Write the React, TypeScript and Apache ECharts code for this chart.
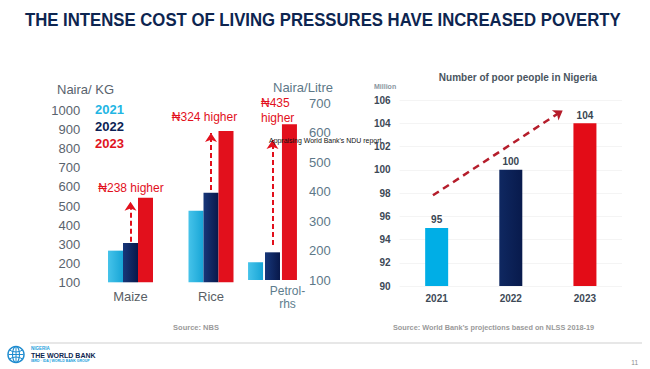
import React, { useEffect, useRef } from "react";
import * as echarts from "echarts";

// ---------- data ----------
const foodCategories = ["Maize", "Rice"];
const fuelCategories = ["Petrol-\nrhs"];
const priceYears = ["2021", "2022", "2023"];
const food2021 = [266, 475];
const food2022 = [306, 570];
const food2023 = [544, 894];
const petrol2021 = [160];
const petrol2022 = [194];
const petrol2023 = [629];
const foodArrowFrom = [313, 584];
const foodArrowTo = [523, 883];
const foodArrowText = ["₦238 higher", "₦324 higher"];
const foodTextValue = [594, 967];
const petrolArrowFrom = [219];
const petrolArrowTo = [575];
const petrolArrowText = ["₦435\nhigher"];
const petrolTextValue = [676];

const poorYears = ["2021", "2022", "2023"];
const poorValues = [95, 100, 104];
const trendStart = [-0.05, 97.8];
const trendEnd = [1.7, 105.1];

// ---------- styles ----------
const FONT = "'Liberation Sans', Arial, 'DejaVu Sans', sans-serif";
const C23 = "#e2101c";
const grad = (a: string, b: string) =>
  new echarts.graphic.LinearGradient(0, 0, 1, 0, [
    { offset: 0, color: a },
    { offset: 1, color: b },
  ]);
const barColors = [grad("#46c3ea", "#17a5d6"), grad("#17377a", "#08184a"), C23];
const poorColors = ["#00aee6", grad("#0f2861", "#081a4c"), "#e30c17"];
const legendColors = ["#22b5e3", "#0c1f55", "#e0141e"];

export default function App() {
  const ref = useRef<HTMLDivElement>(null);
  useEffect(() => {
    if (!ref.current) return;
    const chart = echarts.init(ref.current, undefined, { renderer: "svg" });

    const arrowLine = {
      silent: true,
      symbol: ["none", "arrow"],
      symbolSize: 9,
      label: { show: false },
      lineStyle: { color: C23, type: [5, 3], width: 2, opacity: 1 },
      emphasis: { disabled: true },
    };
    const textPoint = (data: any[]) => ({
      silent: true,
      symbol: "circle",
      symbolSize: 0,
      data,
      label: {
        show: true,
        position: "inside",
        formatter: "{b}",
        color: C23,
        fontSize: 12,
        fontFamily: FONT,
        lineHeight: 15,
      },
    });

    const foodSeries = [food2021, food2022, food2023].map((vals, i) => {
      const s: any = {
        name: priceYears[i],
        type: "bar",
        xAxisIndex: 0,
        yAxisIndex: 0,
        barWidth: 15,
        barGap: "0%",
        data: vals,
        itemStyle: { color: barColors[i] },
        silent: true,
      };
      if (i === 1) {
        s.markLine = {
          ...arrowLine,
          data: foodCategories.map((c, k) => [
            { coord: [c, foodArrowFrom[k]] },
            { coord: [c, foodArrowTo[k]] },
          ]),
        };
        s.markPoint = textPoint(
          foodCategories.map((c, k) => ({
            name: foodArrowText[k],
            coord: [c, foodTextValue[k]],
            label: { offset: [k === 1 ? -6.5 : 0.5, 0] },
          }))
        );
      }
      return s;
    });

    const fuelSeries = [petrol2021, petrol2022, petrol2023].map((vals, i) => {
      const s: any = {
        name: priceYears[i],
        type: "bar",
        xAxisIndex: 1,
        yAxisIndex: 1,
        barWidth: 15,
        barGap: "13%",
        data: vals,
        itemStyle: { color: barColors[i] },
        silent: true,
      };
      if (i === 1) {
        s.markLine = {
          ...arrowLine,
          data: fuelCategories.map((c, k) => [
            { coord: [c, petrolArrowFrom[k]] },
            { coord: [c, petrolArrowTo[k]] },
          ]),
        };
        s.markPoint = textPoint(
          fuelCategories.map((c, k) => ({
            name: petrolArrowText[k],
            coord: [c, petrolTextValue[k]],
            label: { align: "left", offset: [-11.5, 0] },
          }))
        );
      }
      return s;
    });

    const plain = (v: number) => String(v);

    const option: any = {
      animation: false,
      backgroundColor: "#ffffff",
      textStyle: { fontFamily: FONT },
      legend: {
        orient: "vertical",
        left: 85,
        top: 97,
        itemWidth: 0,
        itemHeight: 14,
        itemGap: 3,
        icon: "rect",
        selectedMode: false,
        data: priceYears.map((y, i) => ({
          name: y,
          textStyle: { color: legendColors[i], fontWeight: "bold", fontSize: 13, fontFamily: FONT },
        })),
      },
      grid: [
        { left: 90.25, width: 161, top: 110.7, bottom: 86.7 },
        { left: 242.5, width: 60, top: 103.3, bottom: 89 },
        { left: 399.6, right: 28, top: 100, bottom: 83 },
      ],
      xAxis: [
        {
          type: "category",
          gridIndex: 0,
          data: foodCategories,
          axisLine: { show: false },
          axisTick: { show: false },
          axisLabel: { color: "#5a5f66", fontSize: 13, margin: 8, fontFamily: FONT },
        },
        {
          type: "category",
          gridIndex: 1,
          data: fuelCategories,
          axisLine: { show: false },
          axisTick: { show: false },
          axisLabel: {
            color: "#5d7d8d",
            fontSize: 12,
            margin: 4,
            lineHeight: 13,
            padding: [0, 0, 0, 30],
            fontFamily: FONT,
          },
        },
        {
          type: "category",
          gridIndex: 2,
          data: poorYears,
          axisLine: { show: false },
          axisTick: { show: false },
          axisLabel: { color: "#3d4956", fontSize: 10, fontWeight: "bold", margin: 7, fontFamily: FONT },
        },
        {
          type: "value",
          gridIndex: 2,
          min: -0.5,
          max: 2.5,
          show: false,
        },
      ],
      yAxis: [
        {
          type: "value",
          gridIndex: 0,
          min: 100,
          max: 1000,
          interval: 100,
          splitLine: { show: false },
          axisLine: { show: false },
          axisTick: { show: false },
          axisLabel: { color: "#59636d", fontSize: 13, margin: 10, fontFamily: FONT, formatter: plain },
        },
        {
          type: "value",
          gridIndex: 1,
          position: "right",
          min: 100,
          max: 700,
          interval: 100,
          splitLine: { show: false },
          axisLine: { show: false },
          axisTick: { show: false },
          axisLabel: { color: "#5d7888", fontSize: 13, margin: 6.5, fontFamily: FONT, formatter: plain },
        },
        {
          type: "value",
          gridIndex: 2,
          min: 90,
          max: 106,
          interval: 2,
          splitLine: { show: true, lineStyle: { color: "#f4f4f4" } },
          axisLine: { show: false },
          axisTick: { show: false },
          axisLabel: { color: "#3d4956", fontSize: 10, fontWeight: "bold", margin: 9, fontFamily: FONT },
        },
      ],
      series: [
        ...foodSeries,
        ...fuelSeries,
        {
          name: "poor",
          type: "bar",
          xAxisIndex: 2,
          yAxisIndex: 2,
          barWidth: 23,
          silent: true,
          data: poorValues.map((v, i) => ({ value: v, itemStyle: { color: poorColors[i] } })),
          label: {
            show: true,
            position: "top",
            distance: 3,
            color: "#3a4652",
            fontSize: 10,
            fontWeight: "bold",
            fontFamily: FONT,
          },
        },
        {
          name: "trend",
          type: "line",
          xAxisIndex: 3,
          yAxisIndex: 2,
          data: [],
          silent: true,
          markLine: {
            silent: true,
            symbol: ["none", "arrow"],
            symbolSize: 9,
            label: { show: false },
            lineStyle: { color: "#b51d2b", type: [7, 5], width: 2.5, opacity: 1 },
            emphasis: { disabled: true },
            data: [[{ coord: trendStart }, { coord: trendEnd }]],
          },
        },
      ],
      graphic: [
        {
          type: "text",
          x: 25,
          y: 20,
          scaleX: 0.93,
          style: {
            text: "THE INTENSE COST OF LIVING PRESSURES HAVE INCREASED POVERTY",
            fill: "#0d2550",
            font: `bold 18px ${FONT}`,
            textVerticalAlign: "middle",
          },
        },
        {
          type: "text",
          x: 57,
          y: 89,
          style: { text: "Naira/ KG", fill: "#59636d", font: `13px ${FONT}`, textVerticalAlign: "middle" },
        },
        {
          type: "text",
          x: 273,
          y: 87,
          style: { text: "Naira/Litre", fill: "#5d7888", font: `13px ${FONT}`, textVerticalAlign: "middle" },
        },
        {
          type: "text",
          x: 518,
          y: 77,
          style: {
            text: "Number of poor people in Nigeria",
            fill: "#4a5560",
            font: `bold 10px ${FONT}`,
            textAlign: "center",
            textVerticalAlign: "middle",
          },
        },
        {
          type: "text",
          x: 374,
          y: 86,
          style: { text: "Million", fill: "#8a96a0", font: `bold 7px ${FONT}`, textVerticalAlign: "middle" },
        },
        {
          type: "text",
          x: 269,
          y: 140,
          scaleX: 0.87,
          z: 100,
          style: {
            text: "Appraising World Bank's NDU report",
            fill: "#111111",
            font: `8px ${FONT}`,
            textVerticalAlign: "middle",
          },
        },
        {
          type: "text",
          x: 196,
          y: 327,
          style: {
            text: "Source: NBS",
            fill: "#9a9a9a",
            font: `bold 7.5px ${FONT}`,
            textAlign: "center",
            textVerticalAlign: "middle",
          },
        },
        {
          type: "text",
          x: 393,
          y: 327,
          style: {
            text: "Source: World Bank\u2019s projections based on NLSS 2018-19",
            fill: "#9a9a9a",
            font: `bold 7.3px ${FONT}`,
            textVerticalAlign: "middle",
          },
        },
        {
          type: "line",
          shape: { x1: 30, y1: 343, x2: 642, y2: 343 },
          style: { stroke: "#cfcfcf", lineWidth: 1 },
        },
        {
          type: "text",
          x: 638,
          y: 362,
          style: { text: "11", fill: "#8a8a8a", font: `6.5px ${FONT}`, textAlign: "right", textVerticalAlign: "middle" },
        },
        // World Bank logo
        {
          type: "group",
          children: [
            { type: "circle", shape: { cx: 16, cy: 354.5, r: 8 }, style: { fill: "none", stroke: "#1f8ccf", lineWidth: 1.5 } },
            { type: "ellipse", shape: { cx: 16, cy: 354.5, rx: 3.5, ry: 8 }, style: { fill: "none", stroke: "#1f8ccf", lineWidth: 1.1 } },
            { type: "line", shape: { x1: 8.5, y1: 354.5, x2: 23.5, y2: 354.5 }, style: { stroke: "#1f8ccf", lineWidth: 1 } },
            { type: "line", shape: { x1: 16, y1: 346.5, x2: 16, y2: 362.5 }, style: { stroke: "#1f8ccf", lineWidth: 1 } },
            { type: "arc", shape: { cx: 16, cy: 340, r: 12, startAngle: Math.PI * 0.3, endAngle: Math.PI * 0.7 }, style: { fill: "none", stroke: "#1f8ccf", lineWidth: 1 } },
            { type: "arc", shape: { cx: 16, cy: 369, r: 12, startAngle: Math.PI * 1.3, endAngle: Math.PI * 1.7 }, style: { fill: "none", stroke: "#1f8ccf", lineWidth: 1 } },
          ],
        },
        {
          type: "text",
          x: 31,
          y: 348.5,
          style: { text: "NIGERIA", fill: "#1aa0dc", font: `bold 4.5px ${FONT}`, textVerticalAlign: "middle" },
        },
        {
          type: "text",
          x: 31,
          y: 355,
          style: { text: "THE WORLD BANK", fill: "#0d2550", font: `bold 7px ${FONT}`, textVerticalAlign: "middle" },
        },
        {
          type: "text",
          x: 31,
          y: 361,
          style: { text: "IBRD \u00b7 IDA | WORLD BANK GROUP", fill: "#1aa0dc", font: `bold 3.5px ${FONT}`, textVerticalAlign: "middle" },
        },
      ],
    };

    chart.setOption(option);
    return () => chart.dispose();
  }, []);

  return (
    <div
      ref={ref}
      style={{ position: "fixed", left: 0, top: 0, width: 650, height: 369, background: "#fff" }}
    />
  );
}
